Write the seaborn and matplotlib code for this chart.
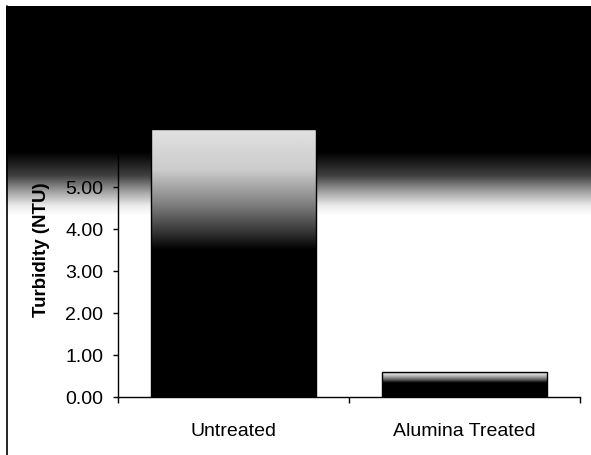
import matplotlib
matplotlib.use("Agg")
import matplotlib.pyplot as plt
import numpy as np
import pandas as pd
import seaborn as sns

# Data
categories = ["Untreated", "Alumina Treated"]
turbidity = [6.38, 0.60]
y_ticks = [0, 1, 2, 3, 4, 5, 6, 7]

df = pd.DataFrame({"Sample": categories, "Turbidity": turbidity})

sns.set_theme(style="white")
plt.rcParams["font.family"] = ["Liberation Sans", "DejaVu Sans"]

W, H = 591, 455
fig = plt.figure(figsize=(W / 100, H / 100), dpi=100)
fig.patch.set_facecolor("white")

# dark scan band across the top of the page (background layer)
bg = fig.add_axes([0, 0, 1, 1], zorder=0)
rows = np.arange(H)
shade = np.interp(rows, [0, 152, 175, 192, 205, 215], [0, 0, 0.25, 0.65, 0.92, 1.0])
band = np.tile(shade[:, None], (1, W))
band[:6, :] = 1.0
band[:, :6] = 1.0
bg.imshow(band, cmap="gray", vmin=0, vmax=1, extent=[0, W, H, 0], aspect="auto",
          interpolation="bilinear")
bg.plot([7, 7], [6, H], color="black", lw=1.2)
bg.set_xlim(0, W)
bg.set_ylim(H, 0)
bg.axis("off")

# main chart
ax = fig.add_axes([118 / W, (H - 397) / H, (580 - 118) / W, (397 - 103) / H], zorder=1)
ax.patch.set_alpha(0)
sns.barplot(data=df, x="Sample", y="Turbidity", color="black", width=0.71,
            edgecolor="black", linewidth=1.0, ax=ax)

# light-to-dark vertical gradient inside each bar
grad = np.interp(np.linspace(1, 0, 200), [0, 0.55, 0.63, 0.72, 0.85, 1.0],
                 [0.0, 0.0, 0.25, 0.5, 0.8, 0.88])[:, None]
for p in ax.patches:
    x0, w, h = p.get_x(), p.get_width(), p.get_height()
    im = ax.imshow(grad, cmap="gray", vmin=0, vmax=1, extent=[x0, x0 + w, 0, h],
                   aspect="auto", zorder=2, interpolation="bilinear")
    im.set_clip_path(p)
    p.set_facecolor("none")
    p.set_zorder(3)

ax.set_xlim(-0.5, 1.5)
ax.set_ylim(0, 7)
ax.set_yticks(y_ticks)
ax.set_yticklabels([f"{v:.2f}" for v in y_ticks], fontsize=14)
ax.set_xticks(range(len(categories)))
ax.set_xticklabels(categories, fontsize=14)
ax.set_xticks([-0.5, 0.5, 1.5], minor=True)
ax.tick_params(axis="x", which="major", length=0, pad=19, colors="black")
ax.tick_params(axis="x", which="minor", length=4.5, width=1, direction="out",
               bottom=True, color="black")
ax.tick_params(axis="y", which="major", length=3.5, width=1, direction="out",
               left=True, pad=7, colors="black")
ax.set_xlabel("")
ax.set_ylabel("Turbidity (NTU)", fontsize=13.5, fontweight="bold", labelpad=11,
              color="black")

for side in ["top", "right"]:
    ax.spines[side].set_visible(False)
for side in ["left", "bottom"]:
    ax.spines[side].set_color("black")
    ax.spines[side].set_linewidth(1.0)

fig.savefig("out.png", dpi=100)
